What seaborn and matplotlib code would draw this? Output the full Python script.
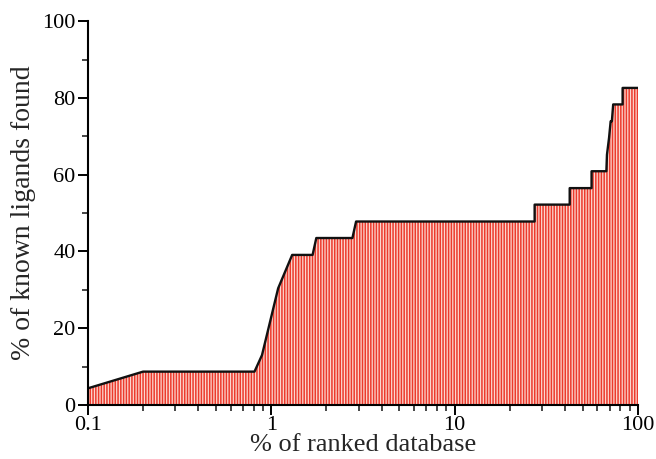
import matplotlib
matplotlib.use("Agg")
import matplotlib.pyplot as plt
import numpy as np
import pandas as pd
import seaborn as sns

# curve vertices (% of ranked database, % of known ligands found)
pct_database = [0.1, 0.2, 0.81, 0.89, 1.09, 1.30, 1.68, 1.76, 2.77, 2.90,
                27.3, 27.3, 42.4, 42.4, 55.8, 55.8, 67.2, 67.7, 69.5, 70.9,
                72.0, 73.2, 82.4, 82.4, 100.0]
pct_found = [4.35, 8.7, 8.7, 13.0, 30.4, 39.1, 39.1, 43.5, 43.5, 47.8,
             47.8, 52.2, 52.2, 56.5, 56.5, 60.9, 60.9, 65.2, 69.6, 73.9,
             73.9, 78.3, 78.3, 82.6, 82.6]
x_ticks = [0.1, 1, 10, 100]
x_tick_labels = ["0.1", "1", "10", "100"]
y_ticks = [0, 20, 40, 60, 80, 100]

df = pd.DataFrame({"db": pct_database, "found": pct_found})

sns.set_style("ticks")
plt.rcParams["font.family"] = ["Liberation Serif", "DejaVu Serif"]
plt.rcParams["hatch.linewidth"] = 1.1
plt.rcParams["hatch.color"] = "#ec3a2c"

fig = plt.figure(figsize=(6.56, 4.59), dpi=100)
ax = fig.add_axes([0.134, 0.1176, 0.8386, 0.8364])

# hatched area under the curve
ax.fill_between(df["db"], 0, df["found"], facecolor="#fcd6cf",
                edgecolor="#ec3a2c", hatch="||||||", linewidth=0)

# black outline
sns.lineplot(data=df, x="db", y="found", sort=False, estimator=None,
             color="#111111", linewidth=1.7, ax=ax)

ax.set_xscale("log")
ax.set_xlim(0.1, 100)
ax.set_ylim(0, 100)
ax.set_xticks(x_ticks)
ax.set_xticklabels(x_tick_labels)
ax.set_yticks(y_ticks)
ax.set_yticks([10, 30, 50, 70, 90], minor=True)

ax.tick_params(axis="both", which="major", direction="out", length=7,
               width=1.4, labelsize=16, colors="black", pad=2)
ax.tick_params(axis="x", which="major", pad=1)
ax.tick_params(axis="both", which="minor", direction="out", length=4,
               width=1.2)

for side in ["top", "right"]:
    ax.spines[side].set_visible(False)
for side in ["left", "bottom"]:
    ax.spines[side].set_linewidth(1.5)
    ax.spines[side].set_color("black")

ax.set_xlabel("% of ranked database", fontsize=19, labelpad=-1)
ax.set_ylabel("% of known ligands found", fontsize=20, labelpad=4)

fig.savefig("out.png", dpi=100)
